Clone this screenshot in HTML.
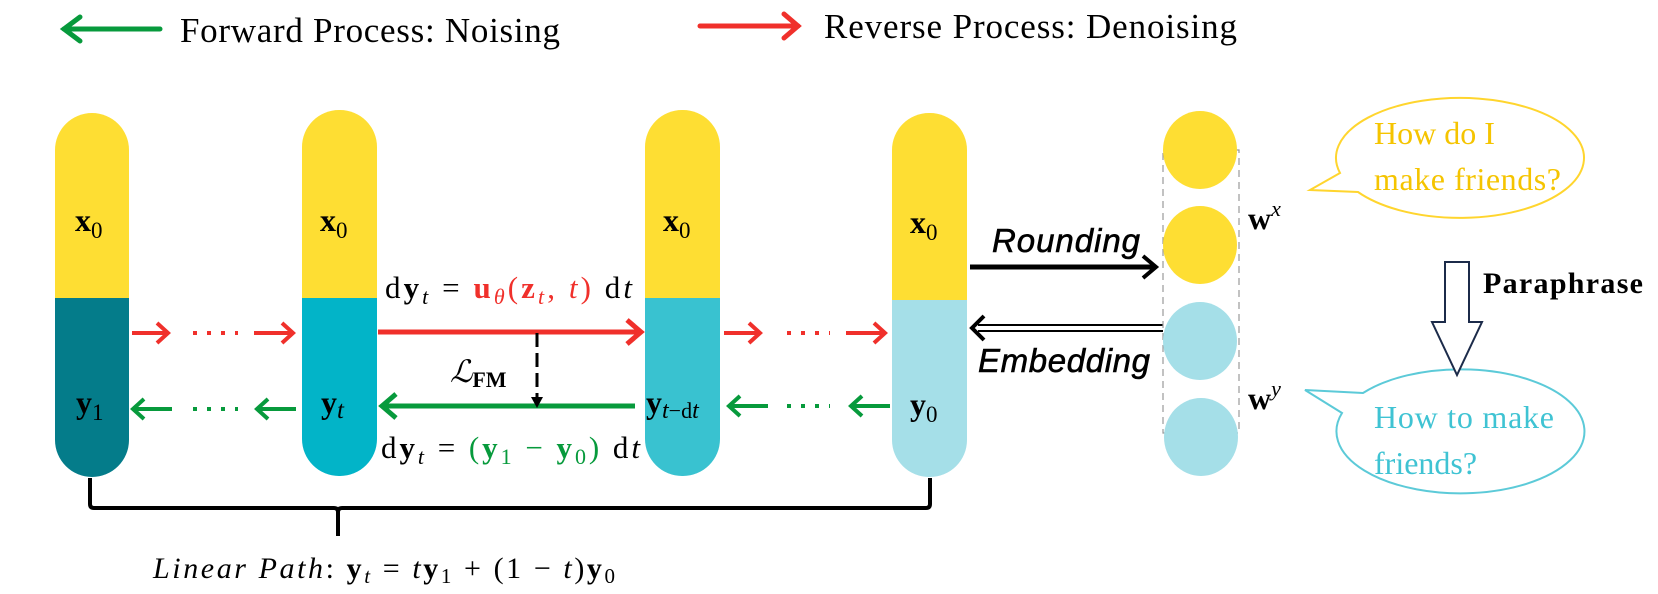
<!DOCTYPE html>
<html><head><meta charset="utf-8"><style>
html,body{margin:0;padding:0;background:#fff;}
svg{display:block;}
text{font-family:"Liberation Serif",serif;}
.sans{font-family:"Liberation Sans",sans-serif;}
</style></head><body>
<svg width="1658" height="594" viewBox="0 0 1658 594" xmlns="http://www.w3.org/2000/svg">
<defs>
<clipPath id="c1"><rect x="55" y="113" width="74" height="364" rx="37"/></clipPath>
<clipPath id="c2"><rect x="302" y="110" width="75" height="366" rx="37"/></clipPath>
<clipPath id="c3"><rect x="645" y="110" width="75" height="366" rx="37"/></clipPath>
<clipPath id="c4"><rect x="892" y="113" width="75" height="364" rx="37"/></clipPath>
</defs>
<!-- legend -->
<g stroke-width="5" fill="none" stroke-linecap="round">
<line x1="64" y1="29" x2="160" y2="29" stroke="#079A3C"/>
<polyline points="80,17 64,29 80,41" stroke="#079A3C"/>
<line x1="700" y1="26" x2="798" y2="26" stroke="#F0302B"/>
<polyline points="784,14 798,26 784,38" stroke="#F0302B"/>
</g>
<text x="180" y="42" font-size="35" textLength="380">Forward Process: Noising</text>
<text x="824" y="38" font-size="35" textLength="413">Reverse Process: Denoising</text>

<!-- pills -->
<g clip-path="url(#c1)"><rect x="50" y="100" width="90" height="198" fill="#FEDE33"/><rect x="50" y="298" width="90" height="190" fill="#047C8A"/></g>
<g clip-path="url(#c2)"><rect x="300" y="100" width="90" height="198" fill="#FEDE33"/><rect x="300" y="298" width="90" height="190" fill="#02B4C8"/></g>
<g clip-path="url(#c3)"><rect x="640" y="100" width="90" height="198" fill="#FEDE33"/><rect x="640" y="298" width="90" height="190" fill="#39C2D0"/></g>
<g clip-path="url(#c4)"><rect x="890" y="100" width="90" height="200" fill="#FEDE33"/><rect x="890" y="300" width="90" height="190" fill="#A5DFE8"/></g>

<g font-size="32" font-weight="bold">
<text x="75" y="231">x<tspan font-weight="normal" font-size="23" dy="7">0</tspan></text>
<text x="320" y="231">x<tspan font-weight="normal" font-size="23" dy="7">0</tspan></text>
<text x="663" y="231">x<tspan font-weight="normal" font-size="23" dy="7">0</tspan></text>
<text x="910" y="233">x<tspan font-weight="normal" font-size="23" dy="7">0</tspan></text>
<text x="76" y="413">y<tspan font-weight="normal" font-size="23" dy="7">1</tspan></text>
<text x="321" y="413">y<tspan font-weight="normal" font-style="italic" font-size="25" dy="5">t</tspan></text>
<text x="646" y="413">y<tspan font-weight="normal" font-style="italic" font-size="24" dy="5">t</tspan><tspan font-weight="normal" font-size="22">−d</tspan><tspan font-weight="normal" font-style="italic" font-size="24">t</tspan></text>
<text x="910" y="415">y<tspan font-weight="normal" font-size="23" dy="7">0</tspan></text>
</g>

<!-- small arrows -->
<g stroke-width="4" fill="none">
<line x1="132" y1="333" x2="167" y2="333" stroke="#F0302B"/><polyline points="157,323 168,333 157,343" stroke="#F0302B"/>
<line x1="254" y1="333" x2="292" y2="333" stroke="#F0302B"/><polyline points="282,323 293,333 282,343" stroke="#F0302B"/>
<line x1="724" y1="333" x2="759" y2="333" stroke="#F0302B"/><polyline points="749,323 760,333 749,343" stroke="#F0302B"/>
<line x1="846" y1="333" x2="884" y2="333" stroke="#F0302B"/><polyline points="874,323 885,333 874,343" stroke="#F0302B"/>
<line x1="134" y1="409" x2="172" y2="409" stroke="#079A3C"/><polyline points="144,399 133,409 144,419" stroke="#079A3C"/>
<line x1="258" y1="409" x2="296" y2="409" stroke="#079A3C"/><polyline points="268,399 257,409 268,419" stroke="#079A3C"/>
<line x1="730" y1="406" x2="768" y2="406" stroke="#079A3C"/><polyline points="740,396 729,406 740,416" stroke="#079A3C"/>
<line x1="852" y1="406" x2="890" y2="406" stroke="#079A3C"/><polyline points="862,396 851,406 862,416" stroke="#079A3C"/>
</g>
<g stroke-width="4" stroke-dasharray="4,10">
<line x1="193" y1="333" x2="238" y2="333" stroke="#F0302B"/>
<line x1="787" y1="333" x2="830" y2="333" stroke="#F0302B"/>
<line x1="193" y1="409" x2="238" y2="409" stroke="#079A3C"/>
<line x1="787" y1="406" x2="830" y2="406" stroke="#079A3C"/>
</g>

<!-- middle -->
<line x1="378" y1="332" x2="640" y2="332" stroke="#F0302B" stroke-width="5"/>
<polyline points="627,320 641,332 627,344" stroke="#F0302B" stroke-width="5" fill="none"/>
<line x1="383" y1="406" x2="635" y2="406" stroke="#079A3C" stroke-width="5"/>
<polyline points="396,394 382,406 396,418" stroke="#079A3C" stroke-width="5" fill="none"/>
<line x1="537" y1="333" x2="537" y2="398" stroke="#000" stroke-width="3" stroke-dasharray="14,6"/>
<polygon points="531,397 543,397 537,408" fill="#000"/>
<text x="450" y="382" font-size="31"><tspan font-style="italic">ℒ</tspan><tspan font-weight="bold" font-size="22" dy="5">FM</tspan></text>

<text x="385" y="298" font-size="31" textLength="247">d<tspan font-weight="bold">y</tspan><tspan font-style="italic" font-size="22" dy="6">t</tspan><tspan dy="-6"> = </tspan><tspan fill="#F0302B" font-weight="bold">u</tspan><tspan fill="#F0302B" font-style="italic" font-size="22" dy="6">θ</tspan><tspan fill="#F0302B" dy="-6">(</tspan><tspan fill="#F0302B" font-weight="bold">z</tspan><tspan fill="#F0302B" font-style="italic" font-size="22" dy="6">t</tspan><tspan fill="#F0302B" dy="-6">, </tspan><tspan fill="#F0302B" font-style="italic">t</tspan><tspan fill="#F0302B">)</tspan> d<tspan font-style="italic">t</tspan></text>
<text x="381" y="458" font-size="31" textLength="259">d<tspan font-weight="bold">y</tspan><tspan font-style="italic" font-size="22" dy="6">t</tspan><tspan dy="-6"> = </tspan><tspan fill="#079A3C">(</tspan><tspan fill="#079A3C" font-weight="bold">y</tspan><tspan fill="#079A3C" font-size="22" dy="6">1</tspan><tspan fill="#079A3C" dy="-6"> − </tspan><tspan fill="#079A3C" font-weight="bold">y</tspan><tspan fill="#079A3C" font-size="22" dy="6">0</tspan><tspan fill="#079A3C" dy="-6">)</tspan> d<tspan font-style="italic">t</tspan></text>

<!-- rounding / embedding -->
<line x1="970" y1="267" x2="1154" y2="267" stroke="#000" stroke-width="5"/>
<polyline points="1143,256 1156,267 1143,278" stroke="#000" stroke-width="4" fill="none"/>
<line x1="978" y1="325" x2="1163" y2="325" stroke="#000" stroke-width="2"/>
<line x1="978" y1="331" x2="1163" y2="331" stroke="#000" stroke-width="2"/>
<polyline points="984,316 972,328 984,340" stroke="#000" stroke-width="4" fill="none"/>
<text class="sans" x="1066" y="252" font-size="33" font-style="italic" text-anchor="middle" stroke="#000" stroke-width="0.6" textLength="148">Rounding</text>
<text class="sans" x="1064" y="372" font-size="33" font-style="italic" text-anchor="middle" stroke="#000" stroke-width="0.6" textLength="172">Embedding</text>

<!-- circles -->
<rect x="1163" y="150" width="76" height="283" fill="none" stroke="#999" stroke-width="1.2" stroke-dasharray="7,5"/>
<ellipse cx="1200" cy="150" rx="37" ry="39" fill="#FEDE33"/>
<ellipse cx="1200" cy="245" rx="37" ry="39" fill="#FEDE33"/>
<ellipse cx="1200" cy="341" rx="37" ry="39" fill="#A5DFE8"/>
<ellipse cx="1201" cy="437" rx="37" ry="39" fill="#A5DFE8"/>
<text x="1248" y="229" font-size="32" font-weight="bold">w<tspan font-weight="normal" font-style="italic" font-size="22" dy="-13">x</tspan></text>
<text x="1248" y="409" font-size="32" font-weight="bold">w<tspan font-weight="normal" font-style="italic" font-size="22" dy="-13">y</tspan></text>

<!-- bubbles -->
<path d="M1340,173 L1310,190 L1358,192 A124,60 0 1 0 1340,173 Z" fill="#fff" stroke="#FFD52E" stroke-width="2"/>
<text x="1374" y="144" font-size="32" fill="#F5C400">How do I</text>
<text x="1374" y="190" font-size="32" fill="#F5C400" textLength="187">make friends?</text>
<path d="M1363,393 L1305,390 L1342,413 A124,62 0 1 0 1363,393 Z" fill="#fff" stroke="#5CCAD8" stroke-width="2"/>
<text x="1374" y="428" font-size="32" fill="#3FC3D3" textLength="180">How to make</text>
<text x="1374" y="474" font-size="32" fill="#3FC3D3">friends?</text>

<!-- paraphrase arrow -->
<polygon points="1445,262 1469,262 1469,322 1482,322 1457,375 1432,322 1445,322" fill="#fff" stroke="#1C2B4A" stroke-width="2"/>
<text x="1483" y="293" font-size="30" font-weight="bold" textLength="160">Paraphrase</text>

<!-- brace -->
<path d="M90,478 L90,504 Q90,508 94,508 L334,508 Q338,508 338,512 L338,536 M338,512 Q338,508 342,508 L926,508 Q930,508 930,504 L930,478" fill="none" stroke="#000" stroke-width="4"/>
<text x="153" y="578" font-size="30" textLength="462"><tspan font-style="italic">Linear Path</tspan>: <tspan font-weight="bold">y</tspan><tspan font-style="italic" font-size="21" dy="5">t</tspan><tspan dy="-5"> = </tspan><tspan font-style="italic">t</tspan><tspan font-weight="bold">y</tspan><tspan font-size="21" dy="5">1</tspan><tspan dy="-5"> + (1 − </tspan><tspan font-style="italic">t</tspan>)<tspan font-weight="bold">y</tspan><tspan font-size="21" dy="5">0</tspan></text>
</svg>
</body></html>
